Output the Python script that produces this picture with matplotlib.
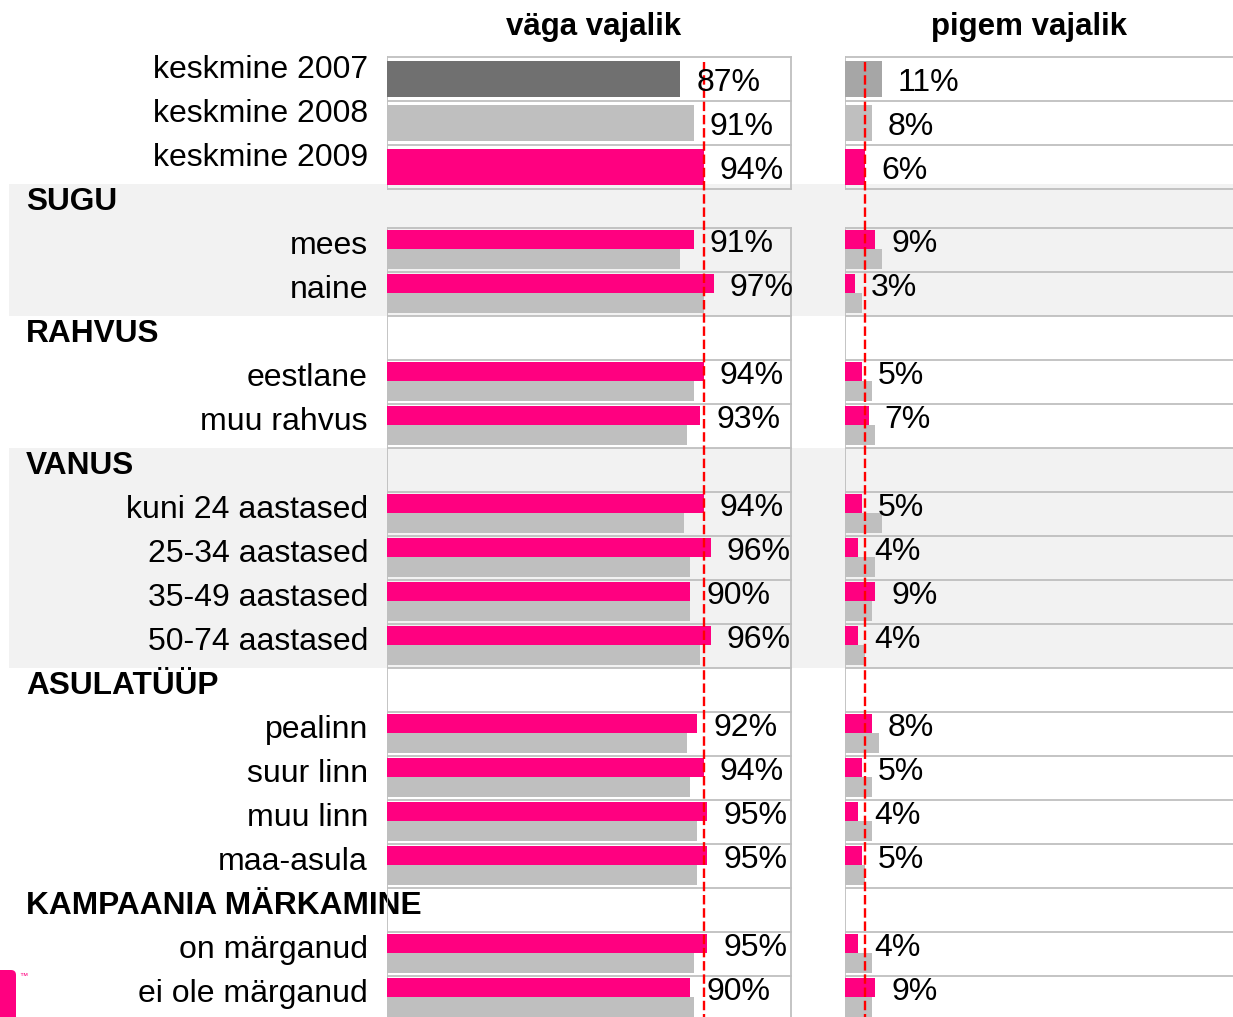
import numpy as np
import matplotlib
matplotlib.use('Agg')
import matplotlib.pyplot as plt
from matplotlib.patches import Rectangle, FancyBboxPatch

plt.rcParams['font.family'] = ['Liberation Sans', 'DejaVu Sans']

# ---------------- data ----------------
col_titles = ['väga vajalik', 'pigem vajalik']

avg_labels = ['keskmine 2007', 'keskmine 2008', 'keskmine 2009']
avg_vaga = [87, 91, 94]
avg_pigem = [11, 8, 6]

sections = ['SUGU', 'RAHVUS', 'VANUS', 'ASULATÜÜP', 'KAMPAANIA MÄRKAMINE']
group_labels = [['mees', 'naine'],
                ['eestlane', 'muu rahvus'],
                ['kuni 24 aastased', '25-34 aastased', '35-49 aastased', '50-74 aastased'],
                ['pealinn', 'suur linn', 'muu linn', 'maa-asula'],
                ['on märganud', 'ei ole märganud']]
vaga_2009 = [[91, 97], [94, 93], [94, 96, 90, 96], [92, 94, 95, 95], [95, 90]]
vaga_2008 = [[87, 94], [91, 89], [88, 90, 90, 93], [89, 90, 92, 92], [91, 91]]
pigem_2009 = [[9, 3], [5, 7], [5, 4, 9, 4], [8, 5, 4, 5], [4, 9]]
pigem_2008 = [[11, 5], [8, 9], [11, 9, 8, 6], [10, 8, 8, 6], [8, 8]]
shaded_sections = ['SUGU', 'VANUS']

# ---------------- style ----------------
PINK = '#FF0080'
LIGHT = '#BFBFBF'
DARK2007 = ['#707070', '#A6A6A6']
GRID = '#BFBFBF'
BAND = '#F2F2F2'
FS = 23
FS_SEC = 22.8
FS_TITLE = 22.5

W, H = 1233, 1017
TOP = 52          # px where row 0 begins
ROW = 44          # px per row
PXU = 337         # px per 100 %
AVG_SHIFT = 5 / ROW

fig = plt.figure(figsize=(W / 100, H / 100), dpi=100)
bg = fig.add_axes([0, 0, 1, 1], zorder=0)
bg.set_xlim(0, W)
bg.set_ylim(H, 0)
bg.axis('off')

nrows_vis = (H - TOP) / ROW
panels = [(387, 405), (845, 388)]
axes = []
for (x0, w) in panels:
    ax = fig.add_axes([x0 / W, 0, w / W, (H - TOP) / H], zorder=1)
    ax.set_xlim(0, w / PXU)
    ax.set_ylim(nrows_vis, 0)
    ax.patch.set_alpha(0)
    ax.axis('off')
    axes.append(ax)

# ---------------- row layout ----------------
rows = []  # (kind, label, row index, section idx, item idx)
r = 0
for i, lab in enumerate(avg_labels):
    rows.append(('avg', lab, r, None, i)); r += 1
for s, sec in enumerate(sections):
    rows.append(('sec', sec, r, s, None)); r += 1
    for j, lab in enumerate(group_labels[s]):
        rows.append(('grp', lab, r, s, j)); r += 1
total_rows = r

# shaded bands
for kind, lab, ri, s, j in rows:
    if kind == 'sec' and lab in shaded_sections:
        n = len(group_labels[s]) + 1
        bg.add_patch(Rectangle((9, TOP + ri * ROW), W - 9, n * ROW,
                               facecolor=BAND, edgecolor='none', zorder=0))

# text labels
for kind, lab, ri, s, j in rows:
    yb = TOP + (ri + 0.6) * ROW
    if kind == 'sec':
        bg.text(26, yb, lab, fontsize=FS_SEC, fontweight='bold', ha='left', va='baseline', zorder=5)
    else:
        bg.text(368, yb, lab, fontsize=FS, ha='right', va='baseline', zorder=5)

# titles
bg.text(594, 35, col_titles[0], fontsize=FS_TITLE, fontweight='bold', ha='center', va='baseline')
bg.text(1029, 35, col_titles[1], fontsize=FS_TITLE, fontweight='bold', ha='center', va='baseline')

# logo fragment
bg.add_patch(FancyBboxPatch((-20, 970), 36, 80, boxstyle='round,pad=0,rounding_size=5',
                            facecolor=PINK, edgecolor='none'))
bg.text(19, 976, '™', fontsize=6, color=PINK, ha='left', va='center')

# ---------------- panels ----------------
first_grp = [ri for kind, _, ri, _, _ in rows if kind == 'sec'][0] + 1
for p, ax in enumerate(axes):
    xr = ax.get_xlim()[1]
    avg_vals = avg_vaga if p == 0 else avg_pigem
    g09 = vaga_2009 if p == 0 else pigem_2009
    g08 = vaga_2008 if p == 0 else pigem_2008
    lw = 1.3
    # averages box
    y0 = AVG_SHIFT
    box_right = 1.2 if p == 0 else xr
    for k in range(len(avg_labels) + 1):
        ax.plot([0, box_right], [y0 + k, y0 + k], color=GRID, lw=lw, zorder=2)
    ax.plot([0, 0], [y0, y0 + len(avg_labels)], color=GRID, lw=lw, zorder=2)
    if p == 0:
        ax.plot([1.2, 1.2], [y0, y0 + len(avg_labels)], color=GRID, lw=lw, zorder=2)
    # group grid
    for k in range(first_grp, total_rows + 1):
        ax.plot([0, box_right], [k, k], color=GRID, lw=lw, zorder=2)
    ax.plot([0, 0], [first_grp, nrows_vis], color=GRID, lw=lw, zorder=2)
    if p == 0:
        ax.plot([1.2, 1.2], [first_grp, nrows_vis], color=GRID, lw=lw, zorder=2)

    for kind, lab, ri, s, j in rows:
        if kind == 'avg':
            col = [DARK2007[p], LIGHT, PINK][j]
            v = avg_vals[j] / 100
            ax.barh(ri + AVG_SHIFT + 0.1, v, height=0.8, align='edge', color=col, zorder=3)
            ax.annotate(f'{avg_vals[j]}%', (v, ri + 0.88), xytext=(16, 0),
                        textcoords='offset pixels', fontsize=FS, ha='left', va='baseline', zorder=6)
        elif kind == 'grp':
            v9 = g09[s][j] / 100
            v8 = g08[s][j] / 100
            ax.barh(ri + 0.045, v9, height=0.435, align='edge', color=PINK, zorder=3)
            ax.barh(ri + 0.48, v8, height=0.45, align='edge', color=LIGHT, zorder=3)
            ax.annotate(f'{g09[s][j]}%', (v9, ri + 0.545), xytext=(16, 0),
                        textcoords='offset pixels', fontsize=FS, ha='left', va='baseline', zorder=6)

    # reference line at 2009 average
    ref = avg_vals[2] / 100
    ax.plot([ref, ref], [0.22, nrows_vis], color='#FF0000', lw=1.7,
            dashes=(4, 1.6), zorder=4)

fig.savefig('out.png', dpi=100)
